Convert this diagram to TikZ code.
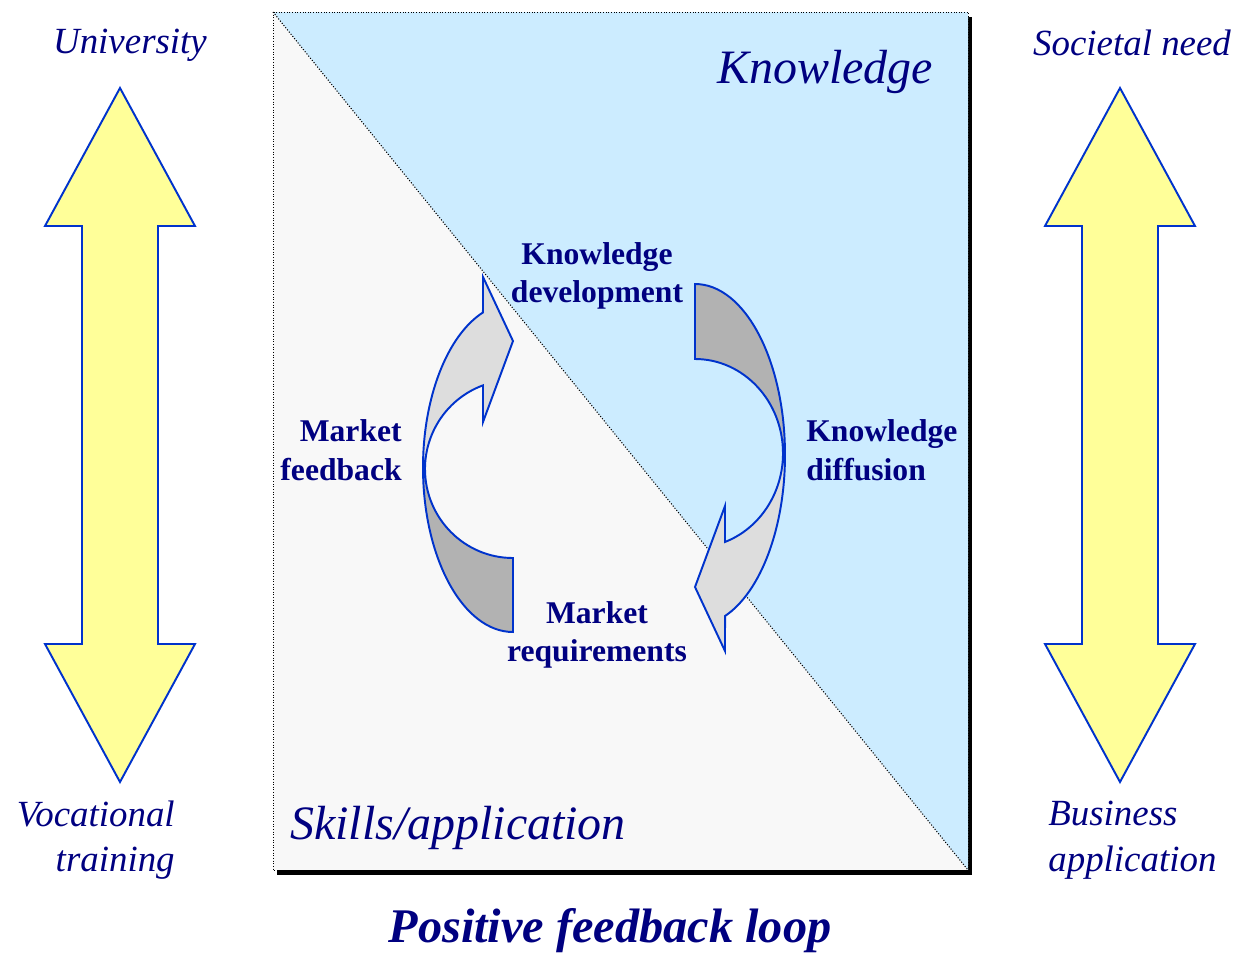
\documentclass[tikz,border=0pt]{standalone}
\usepackage{fontspec}
\setmainfont{Liberation Serif}
\usetikzlibrary{positioning}

\definecolor{lineblue}{RGB}{0,51,204}
\definecolor{labelblue}{RGB}{0,0,128}
\definecolor{sky}{RGB}{204,236,255}
\definecolor{paper}{RGB}{248,248,248}
\definecolor{lemon}{RGB}{255,255,153}
\definecolor{lightgrey}{RGB}{221,221,221}
\definecolor{darkgrey}{RGB}{178,178,178}

\tikzset{
  bigarrow/.style={draw=lineblue, fill=lemon, line width=1.1pt},
  loophead/.style={draw=lineblue, fill=lightgrey, line width=1.1pt},
  looptail/.style={draw=lineblue, fill=darkgrey, line width=1.1pt},
  corner/.style={text=labelblue, font=\itshape\fontsize{21}{26}\selectfont},
  area/.style={text=labelblue, font=\itshape\fontsize{27.3}{32}\selectfont},
  step label/.style={text=labelblue, font=\bfseries\fontsize{18}{22}\selectfont}
}

% one half-turn arrow of the loop: #1,#2 outer centre/radius, #3,#4 inner centre/radius
\newcommand{\loophalf}[4]{%
  \filldraw[looptail] (513,{#1+#2}) arc[start angle=90, end angle=180, x radius=90, y radius=#2]
    -- (425,#3) arc[start angle=180, end angle=90, x radius=88, y radius=#4] -- cycle;
  \filldraw[loophead] (423,#1) arc[start angle=180, end angle=250.5, x radius=90, y radius=#2]
    -- (483,277) -- (513,341) -- (483,422) -- (483,{#3-0.94*#4})
    arc[start angle=250.07, end angle=180, x radius=88, y radius=#4] -- cycle;
}

\begin{document}
\begin{tikzpicture}[x=0.02cm, y=-0.02cm, auto]
		\useasboundingbox (0,0) rectangle (1238,954);

		% box with shadow
		\fill[black] (277,17) rectangle (972,875);
		\fill[paper] (273,12) rectangle (968,870);
		\fill[sky] (273,12) -- (968,12) -- (968,870) -- cycle;
		\draw[densely dotted, line width=0.5pt] (273,12) rectangle (968,870);
		\draw[densely dotted, line width=0.6pt] (273,12) -- (968,870);

		% scale arrows
		\filldraw[bigarrow] (120,88) -- (195,226) -- (158,226) -- (158,644) -- (195,644) -- (120,782)
			-- (45,644) -- (82,644) -- (82,226) -- (45,226) -- cycle;
		\filldraw[bigarrow] (1120,88) -- (1195,226) -- (1158,226) -- (1158,644) -- (1195,644) -- (1120,782)
			-- (1045,644) -- (1082,644) -- (1082,226) -- (1045,226) -- cycle;

		% the loop
		\loophalf{467.5}{164.5}{469}{89}
		\begin{scope}[rotate around={180:(604,464)}]
			\loophalf{473.1}{170.9}{474.7}{94.3}
		\end{scope}

		\draw (130,45) node[corner] (uni) {University};
		\draw (1132,43) node[corner] (need) {Societal need};
		\draw (175,840) node[corner, left, align=right, inner sep=0pt] (voc) {Vocational\\training};
		\draw (1048,840) node[corner, right, align=left, inner sep=0pt] (biz) {Business\\application};

		\draw (825,72) node[area] (know) {Knowledge};
		\draw (458,828) node[area] (skills) {Skills/application};

		\draw (597,276) node[step label, align=center] (dev) {Knowledge\\development};
		\draw (402,450) node[step label, left, align=right, inner sep=0pt] (feed) {Market\\feedback};
		\draw (806,450) node[step label, right, align=left, inner sep=0pt] (diff) {Knowledge\\diffusion};
		\draw (597,635) node[step label, align=center] (req) {Market\\requirements};

		\draw (610,931) node[text=labelblue, inner sep=0pt, font=\bfseries\itshape\fontsize{27.5}{32}\selectfont] (title) {Positive feedback loop};
\end{tikzpicture}
\end{document}
